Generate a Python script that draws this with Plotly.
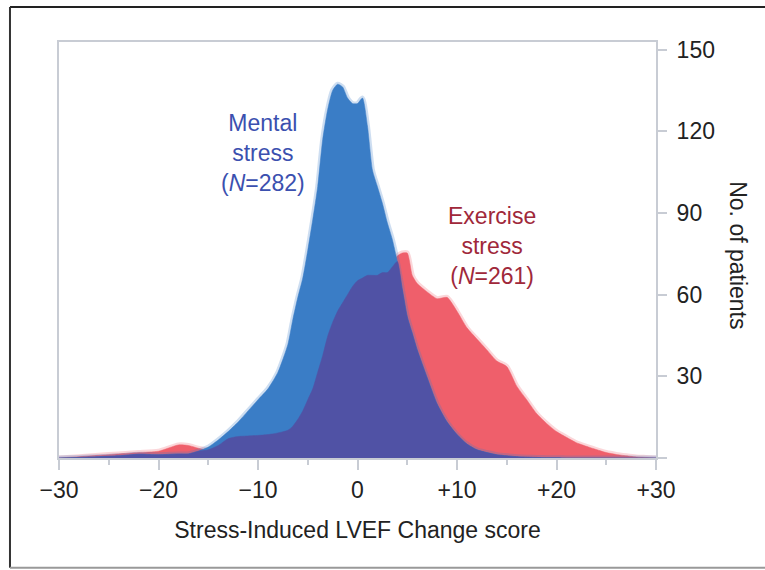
import plotly.graph_objects as go

# ---- data ----
x_vals = [-30, -28, -26, -24, -22, -20, -18, -17, -16, -15, -14, -13, -12, -11, -10,
          -9, -8, -7, -6.5, -6, -5.5, -5, -4.5, -4, -3.5, -3, -2.5, -2, -1.5, -1,
          -0.5, 0, 0.5, 1, 1.5, 2, 2.5, 3, 3.5, 4, 4.5, 5, 5.5, 6, 7, 8, 9, 10,
          11, 12, 13, 14, 15, 16, 17, 18, 19, 20, 21, 22, 23, 24, 25, 26, 27,
          28, 29, 30]

mental = [0, 0.2, 0.5, 0.8, 1.4, 1.2, 1.5, 1.5, 2.5, 4, 6.6, 9.7, 13.2, 17.3, 21.4,
          25.4, 31.5, 41.7, 50.9, 59, 66.1, 76.3, 87.5, 99.7, 117, 128, 135, 137.3, 136.3, 132.2,
          130.2, 130.2, 132.2, 122, 105.8, 99.7, 93.6, 86.4, 80.3, 72.2, 62, 51.9, 45.8, 39.7, 29.5, 19.8, 13.2, 8.6,
          5.1, 3, 2, 1.2, 0.8, 0.5, 0.3, 0.2, 0.1, 0.1, 0, 0, 0, 0, 0, 0, 0,
          0, 0, 0]

exercise = [0, 0.5, 1, 1.5, 2, 2.5, 4.8, 4.6, 3.6, 3, 4.6, 7.1, 7.9, 8.1, 8.3,
            8.6, 9.2, 10.2, 11.7, 14.2, 17.3, 21.4, 25.4, 31.5, 37.6, 44.7, 49.8, 53.9, 57, 60,
            63, 65.1, 66.1, 67.1, 67.1, 67.1, 68.1, 68.1, 70.2, 74.2, 75.3, 75.3, 67.1, 64.1, 61, 58.5, 59, 53.9,
            47.8, 43.7, 39.7, 35.6, 33.6, 26.4, 21.4, 16.3, 12.7, 9.7, 7.6, 5.6, 4.3, 3.1, 2, 1.3, 0.8,
            0.4, 0.2, 0]

overlap = [min(a, b) for a, b in zip(mental, exercise)]

x_ticks = [-30, -20, -10, 0, 10, 20, 30]
x_tick_labels = ["\u221230", "\u221220", "\u221210", "0", "+10", "+20", "+30"]
y_ticks = [0, 30, 60, 90, 120, 150]
y_tick_labels = ["", "30", "60", "90", "120", "150"]

BLUE = "rgb(58,125,198)"
RED = "rgb(239,95,107)"
PURPLE = "rgb(80,82,165)"
FONT = "Liberation Sans, Arial, Helvetica, sans-serif"
FS = 23

fig = go.Figure()

def add_area(y, color, halo):
    fig.add_trace(go.Scatter(x=x_vals, y=y, mode="lines",
                             line=dict(color=halo, width=5, shape="spline", smoothing=0.6),
                             hoverinfo="skip", showlegend=False))
    fig.add_trace(go.Scatter(x=x_vals, y=y, mode="lines", fill="tozeroy", fillcolor=color,
                             line=dict(color=color, width=0.5, shape="spline", smoothing=0.6),
                             hoverinfo="skip", showlegend=False))

add_area(exercise, RED, "rgba(239,95,107,0.25)")
add_area(mental, BLUE, "rgba(58,125,198,0.25)")
fig.add_trace(go.Scatter(x=x_vals, y=overlap, mode="lines", fill="tozeroy", fillcolor=PURPLE,
                         line=dict(color=PURPLE, width=0.5, shape="spline", smoothing=0.6),
                         hoverinfo="skip", showlegend=False))

AX = "rgb(200,204,212)"
fig.update_layout(
    width=765, height=570,
    margin=dict(l=59, r=109, t=42, b=112),
    paper_bgcolor="white", plot_bgcolor="white",
    font=dict(family=FONT, size=FS, color="#222"),
    xaxis=dict(range=[-30, 30], tickvals=x_ticks, ticktext=x_tick_labels,
               ticks="outside", ticklen=10, tickwidth=2, tickcolor=AX,
               minor=dict(dtick=5, tick0=-30, ticks="outside", ticklen=5, tickwidth=2, tickcolor=AX),
               showline=True, linecolor=AX, linewidth=2, mirror=True,
               showgrid=False, zeroline=False, fixedrange=True,
               title=dict(text="Stress-Induced LVEF Change score", font=dict(size=FS), standoff=20)),
    yaxis=dict(range=[0, 152.8], side="right", tickvals=y_ticks, ticktext=y_tick_labels,
               ticks="outside", ticklen=9, tickwidth=2, tickcolor=AX, ticklabelstandoff=5,
               showline=True, linecolor=AX, linewidth=2, mirror=True,
               showgrid=False, zeroline=False, fixedrange=True),
)

fig.add_annotation(x=-9.5, y=112, xref="x", yref="y", text="Mental<br>stress<br>(<i>N</i>=282)",
                   showarrow=False, font=dict(size=FS, color="rgb(59,80,175)"), align="center",
                   xanchor="center", yanchor="middle")
fig.add_annotation(x=13.5, y=78, xref="x", yref="y", text="Exercise<br>stress<br>(<i>N</i>=261)",
                   showarrow=False, font=dict(size=FS, color="rgb(160,40,58)"), align="center",
                   xanchor="center", yanchor="middle")
fig.add_annotation(x=1.137, y=0.488, xref="paper", yref="paper", text="No. of patients",
                   textangle=90, showarrow=False, font=dict(size=FS, color="#222"),
                   xanchor="center", yanchor="middle")

# outer frame
fig.add_shape(type="line", xref="paper", yref="paper", x0=-0.0821, x1=1.2, y0=1.084, y1=1.084,
              line=dict(color="#222", width=2))
fig.add_shape(type="line", xref="paper", yref="paper", x0=-0.0821, x1=-0.0821, y0=1.084, y1=-0.264,
              line=dict(color="#333", width=2))
fig.add_shape(type="line", xref="paper", yref="paper", x0=-0.0821, x1=1.2, y0=-0.264, y1=-0.264,
              line=dict(color="#999", width=2))

fig.write_html("out.html")
